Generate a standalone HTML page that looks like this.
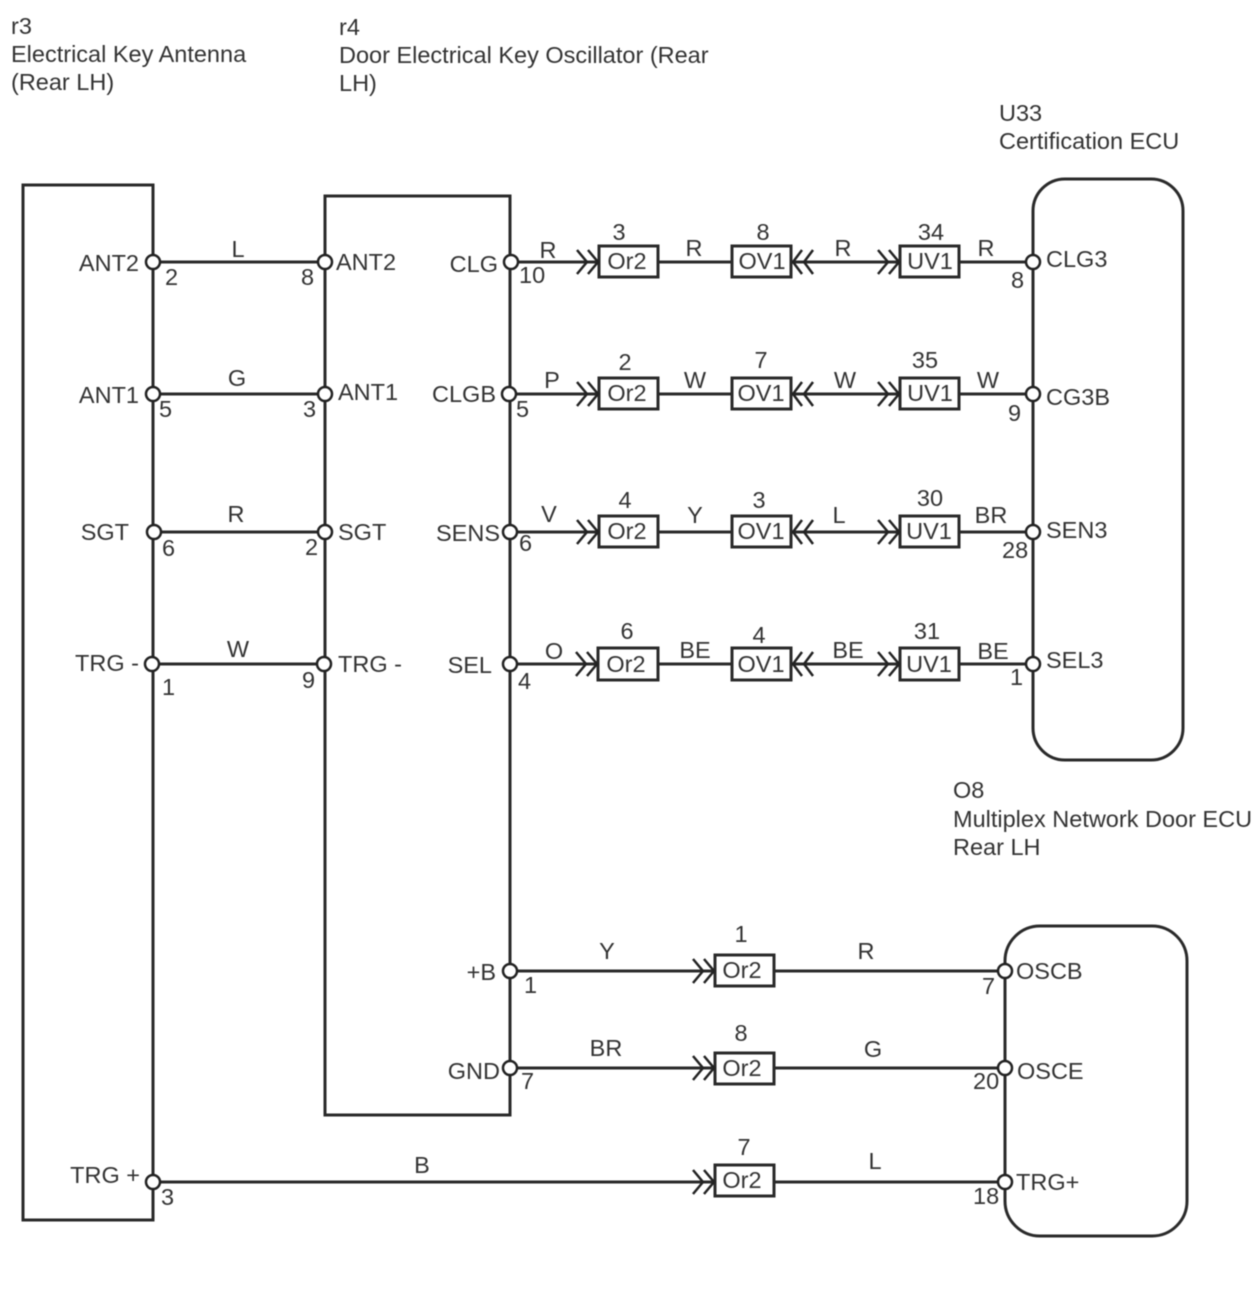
<!DOCTYPE html>
<html><head><meta charset="utf-8">
<style>
html,body{margin:0;padding:0;background:#fff;}
svg{display:block;filter:blur(0.4px);}
text{font-family:"Liberation Sans",sans-serif;font-size:23.5px;fill:#333;}
.m{text-anchor:middle;}
.e{text-anchor:end;}
.b{fill:none;stroke:#2a2a2a;stroke-width:3;}
.w{stroke:#2a2a2a;stroke-width:3;fill:none;}
.c{fill:#fff;stroke:#222;stroke-width:2.5;}
.r{fill:#fff;stroke:#2a2a2a;stroke-width:3;}
.a{fill:none;stroke:#222;stroke-width:2.5;}
</style></head>
<body>
<svg xmlns="http://www.w3.org/2000/svg" width="1260" height="1312" viewBox="0 0 1260 1312">
<rect width="1260" height="1312" fill="#fff"/>

<text x="11" y="34">r3</text>
<text x="11" y="62">Electrical Key Antenna</text>
<text x="11" y="90">(Rear LH)</text>
<text x="339" y="35">r4</text>
<text x="339" y="63">Door Electrical Key Oscillator (Rear</text>
<text x="339" y="91">LH)</text>
<text x="999" y="121">U33</text>
<text x="999" y="149">Certification ECU</text>
<text x="953" y="798">O8</text>
<text x="953" y="827">Multiplex Network Door ECU</text>
<text x="953" y="855">Rear LH</text>

<rect class="b" x="23" y="185" width="130" height="1035"/>
<rect class="b" x="325" y="196" width="185" height="919"/>
<rect class="b" x="1033" y="179" width="150" height="581" rx="32" ry="32"/>
<rect class="b" x="1005" y="926" width="182" height="310" rx="35" ry="35"/>

<path class="w" d="M153 262H325M153 394H325M153 532H325M153 664H325"/>
<path class="w" d="M511 262H1033M509 394H1033M510 532H1033M510 664H1033"/>
<path class="w" d="M510 971H1005M510 1068H1005M153 1182H1005"/>

<!-- row 1 -->
<rect class="r" x="599" y="246" width="59" height="31"/>
<rect class="r" x="732" y="246" width="59" height="31"/>
<rect class="r" x="900" y="246" width="59" height="31"/>
<!-- row 2 -->
<rect class="r" x="599" y="378" width="59" height="31"/>
<rect class="r" x="732" y="378" width="59" height="31"/>
<rect class="r" x="900" y="378" width="59" height="31"/>
<!-- row 3 -->
<rect class="r" x="599" y="516" width="59" height="31"/>
<rect class="r" x="732" y="516" width="59" height="31"/>
<rect class="r" x="900" y="516" width="59" height="31"/>
<!-- row 4 -->
<rect class="r" x="598" y="648" width="60" height="32"/>
<rect class="r" x="732" y="648" width="59" height="32"/>
<rect class="r" x="900" y="648" width="59" height="32"/>
<!-- bottom -->
<rect class="r" x="715" y="955" width="59" height="31"/>
<rect class="r" x="715" y="1053" width="59" height="31"/>
<rect class="r" x="715" y="1165" width="59" height="31"/>

<!-- chevrons -->
<path class="a" d="M577 250L587 262L577 274M588 250L598 262L588 274M802 250L793 262L802 274M813 250L804 262L813 274M878 250L888 262L878 274M889 250L899 262L889 274"/>
<path class="a" d="M577 382L587 394L577 406M588 382L598 394L588 406M802 382L793 394L802 406M813 382L804 394L813 406M878 382L888 394L878 406M889 382L899 394L889 406"/>
<path class="a" d="M577 520L587 532L577 544M588 520L598 532L588 544M802 520L793 532L802 544M813 520L804 532L813 544M878 520L888 532L878 544M889 520L899 532L889 544"/>
<path class="a" d="M576 652L586 664L576 676M587 652L597 664L587 676M802 652L793 664L802 676M813 652L804 664L813 676M878 652L888 664L878 676M889 652L899 664L889 676"/>
<path class="a" d="M693 959L703 971L693 983M704 959L714 971L704 983M693 1056L703 1068L693 1080M704 1056L714 1068L704 1080M693 1170L703 1182L693 1194M704 1170L714 1182L704 1194"/>

<!-- pins -->
<g class="c">
<circle cx="153" cy="262" r="7"/><circle cx="325" cy="262" r="7"/><circle cx="511" cy="262" r="7"/><circle cx="1033" cy="262" r="7"/>
<circle cx="153" cy="394" r="7"/><circle cx="325" cy="394" r="7"/><circle cx="509" cy="394" r="7"/><circle cx="1033" cy="394" r="7"/>
<circle cx="154" cy="532" r="7"/><circle cx="325" cy="532" r="7"/><circle cx="510" cy="532" r="7"/><circle cx="1033" cy="532" r="7"/>
<circle cx="152" cy="664" r="7"/><circle cx="324" cy="664" r="7"/><circle cx="510" cy="664" r="7"/><circle cx="1033" cy="664" r="7"/>
<circle cx="510" cy="971" r="7"/><circle cx="1005" cy="971" r="7"/>
<circle cx="510" cy="1068" r="7"/><circle cx="1005" cy="1068" r="7"/>
<circle cx="153" cy="1182" r="7"/><circle cx="1005" cy="1182" r="7"/>
</g>

<!-- left connector labels -->
<text class="e" x="139" y="271">ANT2</text>
<text class="e" x="139" y="403">ANT1</text>
<text class="e" x="129" y="540">SGT</text>
<text class="e" x="139" y="671">TRG -</text>
<text class="e" x="140" y="1183">TRG +</text>
<text x="336" y="270">ANT2</text>
<text x="338" y="400">ANT1</text>
<text x="338" y="540">SGT</text>
<text x="338" y="672">TRG -</text>
<text class="e" x="498" y="272">CLG</text>
<text class="e" x="496" y="402">CLGB</text>
<text class="e" x="500" y="541">SENS</text>
<text class="e" x="492" y="673">SEL</text>
<text class="e" x="496" y="980">+B</text>
<text class="e" x="500" y="1079">GND</text>
<text x="1046" y="267">CLG3</text>
<text x="1046" y="405">CG3B</text>
<text x="1046" y="538">SEN3</text>
<text x="1046" y="668">SEL3</text>
<text x="1016" y="979">OSCB</text>
<text x="1017" y="1079">OSCE</text>
<text x="1016" y="1190">TRG+</text>

<!-- pin numbers -->
<text x="165" y="285">2</text>
<text x="301" y="285">8</text>
<text x="519" y="283">10</text>
<text x="1011" y="288">8</text>
<text x="159" y="417">5</text>
<text x="303" y="417">3</text>
<text x="516" y="417">5</text>
<text x="1008" y="421">9</text>
<text x="162" y="556">6</text>
<text x="305" y="555">2</text>
<text x="519" y="551">6</text>
<text x="1002" y="558">28</text>
<text x="162" y="695">1</text>
<text x="302" y="688">9</text>
<text x="518" y="689">4</text>
<text x="1010" y="685">1</text>
<text x="524" y="993">1</text>
<text x="982" y="994">7</text>
<text x="521" y="1089">7</text>
<text x="973" y="1089">20</text>
<text x="161" y="1205">3</text>
<text x="973" y="1204">18</text>

<!-- wire colours -->
<text class="m" x="238" y="257">L</text>
<text class="m" x="237" y="386">G</text>
<text class="m" x="236" y="522">R</text>
<text class="m" x="238" y="657">W</text>
<text class="m" x="548" y="258">R</text>
<text class="m" x="694" y="256">R</text>
<text class="m" x="843" y="256">R</text>
<text class="m" x="986" y="256">R</text>
<text class="m" x="552" y="388">P</text>
<text class="m" x="695" y="388">W</text>
<text class="m" x="845" y="388">W</text>
<text class="m" x="988" y="388">W</text>
<text class="m" x="549" y="522">V</text>
<text class="m" x="695" y="523">Y</text>
<text class="m" x="839" y="523">L</text>
<text class="m" x="991" y="523">BR</text>
<text class="m" x="554" y="659">O</text>
<text class="m" x="695" y="658">BE</text>
<text class="m" x="848" y="658">BE</text>
<text class="m" x="993" y="659">BE</text>
<text class="m" x="607" y="959">Y</text>
<text class="m" x="866" y="959">R</text>
<text class="m" x="606" y="1056">BR</text>
<text class="m" x="873" y="1057">G</text>
<text class="m" x="422" y="1173">B</text>
<text class="m" x="875" y="1169">L</text>

<!-- connector numbers and names -->
<text class="m" x="619" y="240">3</text>
<text class="m" x="763" y="240">8</text>
<text class="m" x="931" y="240">34</text>
<text class="m" x="627" y="269">Or2</text>
<text class="m" x="762" y="269">OV1</text>
<text class="m" x="930" y="269">UV1</text>
<text class="m" x="625" y="370">2</text>
<text class="m" x="761" y="368">7</text>
<text class="m" x="925" y="368">35</text>
<text class="m" x="627" y="401">Or2</text>
<text class="m" x="761" y="401">OV1</text>
<text class="m" x="930" y="401">UV1</text>
<text class="m" x="625" y="508">4</text>
<text class="m" x="759" y="508">3</text>
<text class="m" x="930" y="506">30</text>
<text class="m" x="627" y="539">Or2</text>
<text class="m" x="761" y="539">OV1</text>
<text class="m" x="929" y="539">UV1</text>
<text class="m" x="627" y="639">6</text>
<text class="m" x="759" y="643">4</text>
<text class="m" x="927" y="639">31</text>
<text class="m" x="626" y="672">Or2</text>
<text class="m" x="761" y="672">OV1</text>
<text class="m" x="929" y="672">UV1</text>
<text class="m" x="741" y="942">1</text>
<text class="m" x="742" y="978">Or2</text>
<text class="m" x="741" y="1041">8</text>
<text class="m" x="742" y="1076">Or2</text>
<text class="m" x="744" y="1155">7</text>
<text class="m" x="742" y="1188">Or2</text>
</svg>
</body></html>
